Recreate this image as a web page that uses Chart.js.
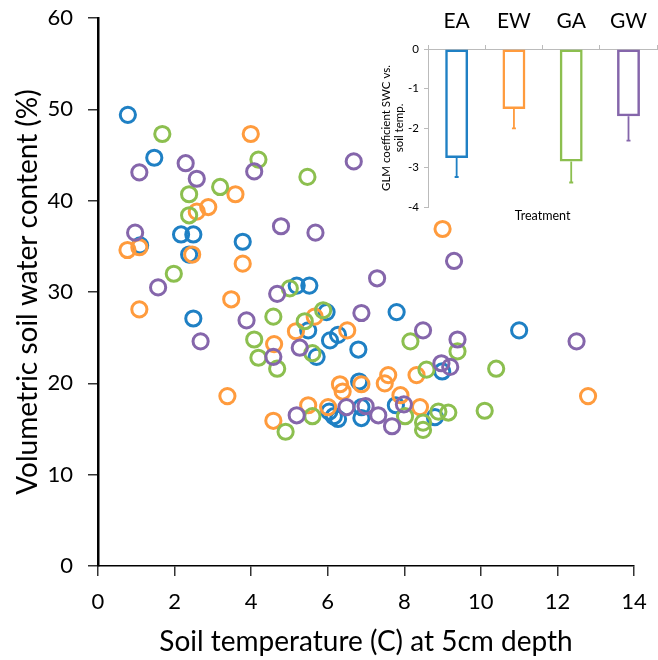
<!DOCTYPE html>
<html><head><meta charset="utf-8">
<script src="https://cdn.jsdelivr.net/npm/chart.js@4"></script>
<style>
html,body{margin:0;padding:0;background:#fff;}
#wrap{position:relative;width:658px;height:660px;overflow:hidden;}
#main{position:absolute;left:0;top:0;}
#inset{position:absolute;left:360px;top:0;}
</style></head><body>
<div id="wrap">
<canvas id="main" width="658" height="660"></canvas>
<canvas id="inset" width="298" height="230"></canvas>
</div>
<script>
// ---- main scatter data ----
const EA_x = [0.78,1.47,1.10,2.17,2.49,2.38,3.78,2.49,5.19,5.52,5.97,7.80,5.49,6.06,6.27,6.80,5.71,11.0,8.99,6.82,7.78,6.04,6.16,6.27,6.88,6.88,8.80];
const EA_y = [49.4,44.7,35.1,36.3,36.3,34.1,35.5,27.1,30.7,30.7,27.8,27.8,25.8,24.7,25.3,23.7,22.9,25.8,21.3,20.2,17.6,16.9,16.4,16.1,17.4,16.2,16.3];

const EW_x = [0.77,1.08,1.08,2.46,2.58,2.88,3.59,3.99,3.78,3.48,3.38,4.60,4.58,5.17,5.66,6.51,5.49,6.01,6.32,6.39,6.88,7.49,7.58,8.32,7.90,8.41,9.00,12.8];
const EW_y = [34.6,34.9,28.1,34.1,38.8,39.3,40.7,47.3,33.1,29.2,18.6,24.3,15.9,25.7,27.3,25.8,17.6,17.4,19.9,19.1,19.9,20.0,20.9,20.9,18.7,17.4,36.9,18.6];

const GA_x = [1.68,2.38,2.38,3.19,4.19,5.47,1.98,4.58,5.01,5.88,5.40,4.08,4.19,4.68,5.60,8.16,8.58,9.39,10.4,4.90,5.60,8.02,8.49,8.49,8.89,9.15,10.1];
const GA_y = [47.3,40.7,38.4,41.5,44.5,42.6,32.0,27.3,30.4,28.0,26.8,24.8,22.8,21.6,23.3,24.6,21.5,23.5,21.6,14.7,16.4,16.4,15.7,14.9,16.9,16.8,17.0];

const GW_x = [0.97,1.08,2.29,2.58,4.08,4.78,5.68,6.68,1.57,2.68,3.88,4.68,7.29,6.88,8.49,9.30,12.5,9.39,8.97,9.20,5.27,4.58,5.19,6.49,6.99,7.32,7.68,7.99];
const GW_y = [36.5,43.1,44.1,42.4,43.2,37.2,36.5,44.3,30.5,24.6,26.9,29.8,31.5,27.7,25.8,33.4,24.6,24.8,22.2,21.8,23.9,22.9,16.5,17.4,17.5,16.5,15.3,17.7];

const X_TICKS = [0,2,4,6,8,10,12,14];
const Y_TICKS = [0,10,20,30,40,50,60];

// ---- inset bar data ----
const TREATMENTS = ['EA','EW','GA','GW'];
const COEF = [-2.76,-1.52,-2.85,-1.70];
const COEF_ERR = [0.48,0.49,0.53,0.62];
const INSET_TICKS = [-4,-3,-2,-1,0];

const COLORS = ['#1f80c4','#ff9b3d','#8cbf4f','#8566ab'];
const FONT = 'Lato, "Open Sans", sans-serif';

function pts(xs, ys){ return xs.map((x,i)=>({x:x, y:ys[i]})); }

const series = [
  {label:'EA', d:pts(EA_x,EA_y), order:4},
  {label:'EW', d:pts(EW_x,EW_y), order:3},
  {label:'GA', d:pts(GA_x,GA_y), order:2},
  {label:'GW', d:pts(GW_x,GW_y), order:1}
];

new Chart(document.getElementById('main'), {
  type:'scatter',
  data:{
    datasets: series.map((s,i)=>({
      label:s.label, data:s.d, order:s.order,
      borderColor:COLORS[i], backgroundColor:'rgba(0,0,0,0)',
      pointRadius:7.6, pointHoverRadius:7.6, pointBorderWidth:3, pointHoverBorderWidth:3
    }))
  },
  options:{
    responsive:false, animation:false,
    layout:{padding:{left:0,right:24,top:18,bottom:0}},
    plugins:{legend:{display:false}, tooltip:{enabled:false}},
    scales:{
      x:{
        type:'linear', min:0, max:14,
        afterBuildTicks:(s)=>{ s.ticks = X_TICKS.map(v=>({value:v})); },
        afterFit:(s)=>{ s.height = 94; s.paddingLeft = 0; s.paddingRight = 0; },
        ticks:{font:{family:FONT,size:22}, color:'#000', padding:13},
        grid:{drawOnChartArea:false, drawTicks:true, tickLength:10, color:'#333', lineWidth:1.5},
        border:{display:true, color:'#000', width:1.5},
        title:{display:true, text:'Soil temperature (C) at 5cm depth', font:{family:FONT,size:28}, color:'#000', padding:{top:0,bottom:1}}
      },
      y:{
        type:'linear', min:0, max:60,
        afterBuildTicks:(s)=>{ s.ticks = Y_TICKS.map(v=>({value:v})); },
        afterFit:(s)=>{ s.width = 98; s.paddingTop = 0; s.paddingBottom = 0; },
        ticks:{font:{family:FONT,size:22}, color:'#000', padding:15},
        grid:{drawOnChartArea:false, drawTicks:true, tickLength:10, color:'#333', lineWidth:1.5},
        border:{display:true, color:'#000', width:2.5},
        title:{display:true, text:'Volumetric soil water content (%)', font:{family:FONT,size:28}, color:'#000', padding:{top:11,bottom:0}}
      }
    }
  }
});

const errPlugin = {
  id:'errbars',
  afterDatasetsDraw(chart){
    const ctx = chart.ctx, y = chart.scales.y;
    const meta = chart.getDatasetMeta(0);
    ctx.save();
    meta.data.forEach((bar,i)=>{
      const y0 = y.getPixelForValue(COEF[i]);
      const y1 = y.getPixelForValue(COEF[i]-COEF_ERR[i]);
      ctx.strokeStyle = COLORS[i]; ctx.lineWidth = 1.8;
      ctx.beginPath();
      ctx.moveTo(bar.x, y0); ctx.lineTo(bar.x, y1);
      ctx.moveTo(bar.x-2, y1); ctx.lineTo(bar.x+2, y1);
      ctx.stroke();
    });
    ctx.restore();
  }
};

new Chart(document.getElementById('inset'), {
  type:'bar',
  data:{
    labels:TREATMENTS,
    datasets:[{data:COEF, borderColor:COLORS, backgroundColor:'rgba(255,255,255,0)', borderWidth:2.5, borderSkipped:false, barPercentage:0.4, categoryPercentage:1}]
  },
  options:{
    responsive:false, animation:false,
    layout:{padding:0},
    plugins:{legend:{display:false}, tooltip:{enabled:false}},
    scales:{
      x:{
        position:'top',
        afterFit:(s)=>{ s.height = 49; },
        ticks:{font:{family:FONT,size:21}, color:'#000', padding:11},
        grid:{drawOnChartArea:false, offset:true, tickLength:4, color:'#bbb'},
        border:{display:true, color:'#bbb', width:1}
      },
      x2:{
        position:'bottom', type:'category', labels:TREATMENTS,
        afterFit:(s)=>{ s.height = 23; },
        ticks:{display:false}, grid:{display:false}, border:{display:false},
        title:{display:true, text:'Treatment', font:{family:FONT,size:12.5}, color:'#000', padding:{top:0,bottom:7}}
      },
      y:{
        min:-4, max:0,
        afterBuildTicks:(s)=>{ s.ticks = INSET_TICKS.map(v=>({value:v})); },
        afterFit:(s)=>{ s.width = 68; },
        ticks:{font:{family:FONT,size:11.5}, color:'#000', padding:5},
        grid:{drawOnChartArea:false, tickLength:4, color:'#bbb'},
        border:{display:true, color:'#bbb', width:1},
        title:{display:true, text:['GLM coefficient SWC vs.','soil temp.'], font:{family:FONT,size:11.5}, color:'#000', padding:{top:19,bottom:0}}
      }
    }
  },
  plugins:[errPlugin]
});
</script>
</body></html>
